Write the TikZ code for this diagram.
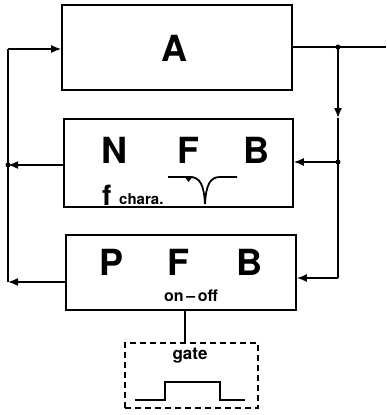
\documentclass[tikz,border=0pt]{standalone}
\usepackage{fontspec}
\setmainfont{TeX Gyre Heros}
\usetikzlibrary{arrows.meta}
\begin{document}
\begin{tikzpicture}[x=1pt,y=-1pt,
  blk/.style={draw,line width=1.6pt,inner sep=0pt},
  gatebox/.style={draw,line width=1.6pt,dash pattern=on 6pt off 4pt,inner sep=0pt},
  wire/.style={line width=1.6pt},
  arr/.style={wire,-{Latex[length=10pt,width=8pt]}},
  big/.style={font=\fontsize{36}{36}\selectfont\bfseries,inner sep=0pt},
  dot/.style={circle,fill,inner sep=0pt,minimum size=5pt}]
\useasboundingbox (0,0) rectangle (386,415);
% boxes
\node[blk,minimum width=230pt,minimum height=85pt] (A) at (177,47.5) {};
\node[blk,minimum width=229pt,minimum height=88pt] (N) at (178.5,163) {};
\node[blk,minimum width=230pt,minimum height=75pt] (P) at (181,272.5) {};
\node[gatebox,minimum width=133pt,minimum height=65pt] (G) at (191.5,375.5) {};
% labels
\node[big] (tA) at (174,48) {A};
\node[big] (tN1) at (114,150) {N};
\node[big] (tN2) at (188,150) {F};
\node[big] (tN3) at (256,150) {B};
\node[big] (tP1) at (112,262) {P};
\node[big] (tP2) at (178,262) {F};
\node[big] (tP3) at (249,262) {B};
\node[font=\fontsize{16}{16}\selectfont\bfseries,inner sep=0pt] (onoff) at (191,296) {on\,–\,off};
\node[font=\fontsize{17}{17}\selectfont\bfseries,inner sep=0pt] (gt) at (190,356) {gate};
\node[font=\fontsize{28}{28}\selectfont\bfseries,inner sep=0pt,anchor=base west] (f) at (102,205) {f};
\node[font=\fontsize{15}{15}\selectfont\bfseries,inner sep=0pt,anchor=base west] (ch) at (119,204) {chara.};
% resonance curve
\draw[line width=1.8pt] (168,177) -- (190,177) .. controls (200,177) and (204,185) .. (205,204)
  .. controls (206,185) and (210,177) .. (220,177) -- (237,177);
\fill (184,176) -- (193,176) -- (188.5,182) -- cycle;
% coordinates
\coordinate (jA) at (338,47);
\coordinate (out) at (386,47);
\coordinate (jN) at (338,162);
\coordinate (rP) at (338,278);
\coordinate (lN) at (8,165);
\coordinate (lP) at (8,282);
\coordinate (lA) at (8,49);
\coordinate (dn) at (338,118);
% wires
\draw[wire] (A.east |- jA) -- (out);
\draw[arr] (jA) -- (dn);
\draw[wire] (dn) -- (rP);
\draw[arr] (jN) -- (N.east |- jN);
\draw[arr] (rP) -- (P.east |- rP);
\draw[arr] (N.west |- lN) -- (lN);
\draw[arr] (P.west |- lP) -- (lP);
\draw[wire] (lP) -- (lA);
\draw[arr] (lA) -- (A.west |- lA);
\draw[wire] (P.south -| 185,0) -- (G.north -| 185,0);
% pulse
\draw[line width=2pt] (135,400) -- (165,400) -- (165,382) -- (220,382) -- (220,400) -- (245,400);
% dots
\node[dot] at (jA) {};
\node[dot] at (jN) {};
\node[dot] at (lN) {};
\end{tikzpicture}
\end{document}
